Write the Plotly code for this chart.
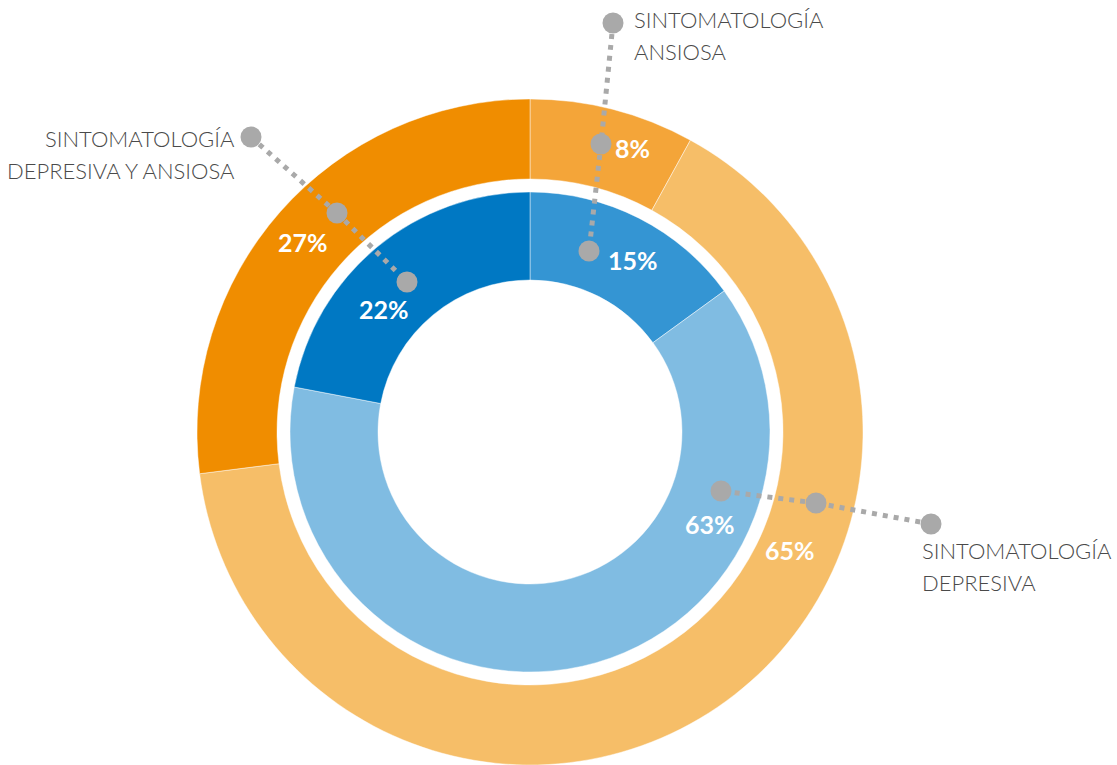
import plotly.graph_objects as go
import math

# ---- data ----
outer_labels = ["Sintomatología ansiosa", "Sintomatología depresiva", "Sintomatología depresiva y ansiosa"]
outer_values = [8, 65, 27]
inner_labels = ["Sintomatología ansiosa", "Sintomatología depresiva", "Sintomatología depresiva y ansiosa"]
inner_values = [15, 63, 22]
callout_lines = [["SINTOMATOLOGÍA", "ANSIOSA"],
                 ["SINTOMATOLOGÍA", "DEPRESIVA"],
                 ["SINTOMATOLOGÍA", "DEPRESIVA Y ANSIOSA"]]

# ---- style ----
W, H = 1117, 765
CX, CY = 530, 432
outer_colors = ["#F4A539", "#F6BE68", "#F08D00"]
inner_colors = ["#3495D3", "#80BCE2", "#0078C3"]
R_OUT, HOLE_OUT = 333, 253 / 333
R_IN, HOLE_IN = 240, 152 / 240
GREY = "#A9A9A9"
TXT = "#4A4A4A"

def dom(r):
    return dict(x=[(CX - r) / W, (CX + r) / W],
                y=[(H - CY - r) / H, (H - CY + r) / H])

fig = go.Figure()
fig.add_trace(go.Scatter(x=[], y=[], showlegend=False, hoverinfo="skip"))
fig.add_trace(go.Pie(labels=outer_labels, values=outer_values, sort=False,
                     direction="clockwise", rotation=0, hole=HOLE_OUT,
                     domain=dom(R_OUT), textinfo="none", hoverinfo="label+value",
                     marker=dict(colors=outer_colors, line=dict(color="rgba(255,255,255,0.45)", width=1)),
                     showlegend=False))
fig.add_trace(go.Pie(labels=inner_labels, values=inner_values, sort=False,
                     direction="clockwise", rotation=0, hole=HOLE_IN,
                     domain=dom(R_IN), textinfo="none", hoverinfo="label+value",
                     marker=dict(colors=inner_colors, line=dict(color="rgba(255,255,255,0.45)", width=1)),
                     showlegend=False))

# percentage label placement (angle clockwise from top, radius in px)
outer_lab_pos = [(19.9, 302), (114.4, 286), (309.9, 296)]
inner_lab_pos = [(30.9, 200), (117.1, 202), (310.1, 191)]

annotations = []
for vals, poss in ((outer_values, outer_lab_pos), (inner_values, inner_lab_pos)):
    for v, (a, r) in zip(vals, poss):
        x = CX + r * math.sin(math.radians(a))
        y = CY - r * math.cos(math.radians(a))
        annotations.append(dict(x=x, y=y, xref="x", yref="y", text=f"{v}%",
                                showarrow=False, xanchor="center", yanchor="middle",
                                font=dict(family="Lato", size=25, color="white", weight=700)))

# callouts: leader dots (pixel positions) and text anchors
leaders = [
    [(613, 23), (601, 144), (589, 251)],
    [(931, 524), (816, 503), (721, 491)],
    [(251, 137), (337, 213), (407, 282)],
]
text_anchor = [(632, 19, "left"), (920, 550, "left"), (237, 138, "right")]

shapes = []
for pts in leaders:
    for (x0, y0), (x1, y1) in zip(pts[:-1], pts[1:]):
        shapes.append(dict(type="line", xref="x", yref="y", x0=x0, y0=y0, x1=x1, y1=y1,
                           line=dict(color=GREY, width=5, dash="5px,6px"), layer="above"))
for pts in leaders:
    for (x, y) in pts:
        r = 10.5
        shapes.append(dict(type="circle", xref="x", yref="y", x0=x - r, x1=x + r, y0=y - r, y1=y + r,
                           fillcolor=GREY, line=dict(width=0), layer="above"))

for lines, (tx, ty, anc) in zip(callout_lines, text_anchor):
    for i, t in enumerate(lines):
        annotations.append(dict(x=tx, y=ty + i * 32, xref="x", yref="y", text=t, showarrow=False,
                                xanchor=anc, yanchor="middle",
                                font=dict(family="Lato", size=22, color=TXT, weight=300)))

fig.update_layout(
    width=W, height=H, margin=dict(l=0, r=0, t=0, b=0),
    paper_bgcolor="white", plot_bgcolor="rgba(0,0,0,0)",
    xaxis=dict(range=[0, W], visible=False, fixedrange=True),
    yaxis=dict(range=[H, 0], visible=False, fixedrange=True),
    shapes=shapes, annotations=annotations, showlegend=False,
)
fig.write_html("out.html", config={"displayModeBar": False},
               post_script="document.body.style.margin='0';document.body.style.overflow='hidden';")
